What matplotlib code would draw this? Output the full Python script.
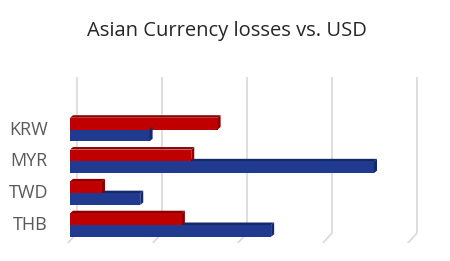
import matplotlib.pyplot as plt
from matplotlib.patches import Polygon

# Daten (von unten nach oben: THB, TWD, MYR, KRW)
categories = ['THB', 'TWD', 'MYR', 'KRW']
red_vals = [1.34, 0.40, 1.45, 1.76]
blue_vals = [2.39, 0.85, 3.60, 0.96]
grid_vals = [0, 1, 2, 3, 4]

red = '#C00000'
red_dark = '#8A0000'
blue = '#1F3A8F'
blue_dark = '#14286A'

W, H = 450, 261
fig = plt.figure(figsize=(W / 100, H / 100), dpi=100)
plt.rcParams['font.family'] = ['Open Sans', 'DejaVu Sans']

# Achse in Pixelkoordinaten platzieren
px_left, px_right = 60, 430
px_top, px_bottom = 77, 243
ax = fig.add_axes([px_left / W, 1 - px_bottom / H,
                   (px_right - px_left) / W, (px_bottom - px_top) / H])
x_scale = 85.0    # px pro Einheit
y_scale = 31.83   # px pro Kategorie
zero_px = 68
ax.set_xlim((px_left - zero_px) / x_scale, (px_right - zero_px) / x_scale)
ax.set_ylim(-(px_bottom - 225) / y_scale, 3 + (129.5 - px_top) / y_scale)
ax.axis('off')

# Gitterlinien mit 3D-Versatz
gdx = 9 / x_scale
floor_y = -(233 - 225) / y_scale
y0, y1 = ax.get_ylim()
for g in grid_vals:
    ax.plot([g + gdx, g + gdx, g], [y1, floor_y, y0], color='#D9D9D9',
            lw=1.2, zorder=0, solid_joinstyle='miter')

# 3D-Balken
h = 0.37
ddx = 3 / x_scale
ddy = 2.5 / y_scale
x_start = 2 / x_scale


def bar3d(y_bottom, val, col, dark):
    ax.barh(y_bottom + h / 2, val - x_start, left=x_start, height=h,
            color=col, zorder=3)
    top = y_bottom + h
    ax.add_patch(Polygon([(x_start, top), (val, top), (val + ddx, top + ddy),
                          (x_start + ddx, top + ddy)], closed=True,
                         facecolor=dark, edgecolor='none', zorder=2))
    ax.add_patch(Polygon([(val, y_bottom), (val + ddx, y_bottom + ddy),
                          (val + ddx, top + ddy), (val, top)], closed=True,
                         facecolor=dark, edgecolor='none', zorder=4))


for i in range(len(categories)):
    bar3d(i - h, blue_vals[i], blue, blue_dark)
    bar3d(i, red_vals[i], red, red_dark)

for i, c in enumerate(categories):
    ax.text((48 - zero_px) / x_scale, i, c, ha='right', va='center',
            fontsize=13, color='#595959')

fig.text(0.505, 1 - 31 / H, 'Asian Currency losses vs. USD', ha='center',
         va='center', fontsize=14.5, color='#262626')

fig.savefig('out.png', dpi=100)
